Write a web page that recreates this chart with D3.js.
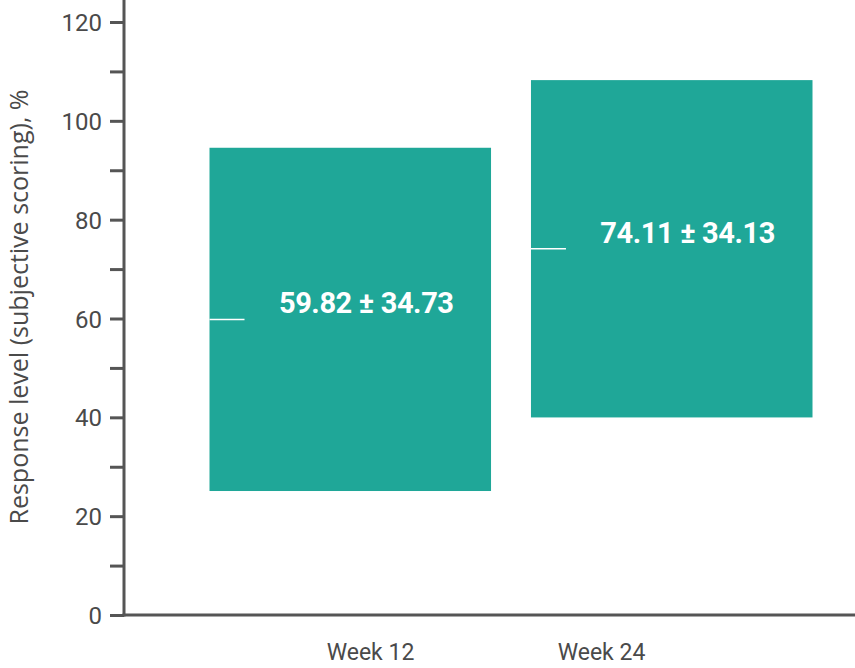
<!DOCTYPE html>
<html>
<head>
<meta charset="utf-8">
<script src="https://cdn.jsdelivr.net/npm/d3@7"></script>
<style>
  html, body { margin: 0; padding: 0; background: #fff; }
  svg { display: block; }
</style>
</head>
<body>
<svg id="chart" width="855" height="668"></svg>
<script>
// ---- data ----
const categories = ["Week 12", "Week 24"];
const means = [59.82, 74.11];
const sds = [34.73, 34.13];
const valueLabels = ["59.82 ± 34.73", "74.11 ± 34.13"];
const yTicks = [0, 10, 20, 30, 40, 50, 60, 70, 80, 90, 100, 110, 120];
const yTitle = "Response level (subjective scoring), %";

// ---- styles ----
const teal = "#1fa798";
const axisColor = "#555555";
const textColor = "#4a4a4a";

const svg = d3.select("#chart");
const W = 855, H = 668;

const y = d3.scaleLinear().domain([0, 120]).range([615, 22]);
const x = d3.scaleBand().domain(categories).range([209.5, 812.5]).paddingInner(40 / 322).paddingOuter(0);
const xLabel = d3.scalePoint().domain(categories).range([370.5, 601.5]);

const data = categories.map((c, i) => ({ cat: c, mean: means[i], sd: sds[i], label: valueLabels[i] }));

// boxes
svg.append("g").selectAll("rect").data(data).join("rect")
  .attr("x", d => x(d.cat))
  .attr("width", x.bandwidth())
  .attr("y", d => y(d.mean + d.sd))
  .attr("height", d => y(d.mean - d.sd) - y(d.mean + d.sd))
  .attr("fill", teal);

// mean lines
svg.append("g").selectAll("line").data(data).join("line")
  .attr("x1", d => x(d.cat))
  .attr("x2", d => x(d.cat) + 35)
  .attr("y1", d => y(d.mean))
  .attr("y2", d => y(d.mean))
  .attr("stroke", "#ffffff")
  .attr("stroke-width", 1.5);

// value labels
svg.append("g").selectAll("text").data(data).join("text")
  .attr("x", d => x(d.cat) + x.bandwidth() / 2 + 16)
  .attr("y", d => y(d.mean) - 6)
  .attr("text-anchor", "middle")
  .attr("fill", "#ffffff")
  .attr("font-family", "Roboto, sans-serif")
  .attr("font-weight", 700)
  .attr("font-size", 29)
  .attr("letter-spacing", -0.4)
  .text(d => d.label);

// y axis
const yAxis = d3.axisLeft(y).tickValues(yTicks).tickSize(14).tickPadding(8)
  .tickFormat(d => d % 20 === 0 ? d : "");
const gy = svg.append("g").attr("transform", "translate(124,0)").call(yAxis);
gy.select(".domain").remove();
gy.selectAll(".tick line").attr("stroke", axisColor).attr("stroke-width", 3);
gy.selectAll(".tick text")
  .attr("fill", textColor)
  .attr("font-family", "Roboto, sans-serif")
  .attr("font-size", 24)
  .attr("dy", "0.36em");

// axis lines
svg.append("line")
  .attr("x1", 124).attr("x2", 124)
  .attr("y1", 0).attr("y2", y(0) + 1.5)
  .attr("stroke", axisColor).attr("stroke-width", 3);
svg.append("line")
  .attr("x1", 122.5).attr("x2", W)
  .attr("y1", y(0)).attr("y2", y(0))
  .attr("stroke", axisColor).attr("stroke-width", 3);

// x labels
svg.append("g").selectAll("text").data(categories).join("text")
  .attr("x", d => xLabel(d))
  .attr("y", 660)
  .attr("text-anchor", "middle")
  .attr("fill", textColor)
  .attr("font-family", "Roboto, sans-serif")
  .attr("font-size", 23)
  .text(d => d);

// y title
svg.append("text")
  .attr("transform", "translate(28,307) rotate(-90)")
  .attr("text-anchor", "middle")
  .attr("fill", textColor)
  .attr("font-family", "'Open Sans', sans-serif")
  .attr("font-size", 25)
  .text(yTitle);
</script>
</body>
</html>
